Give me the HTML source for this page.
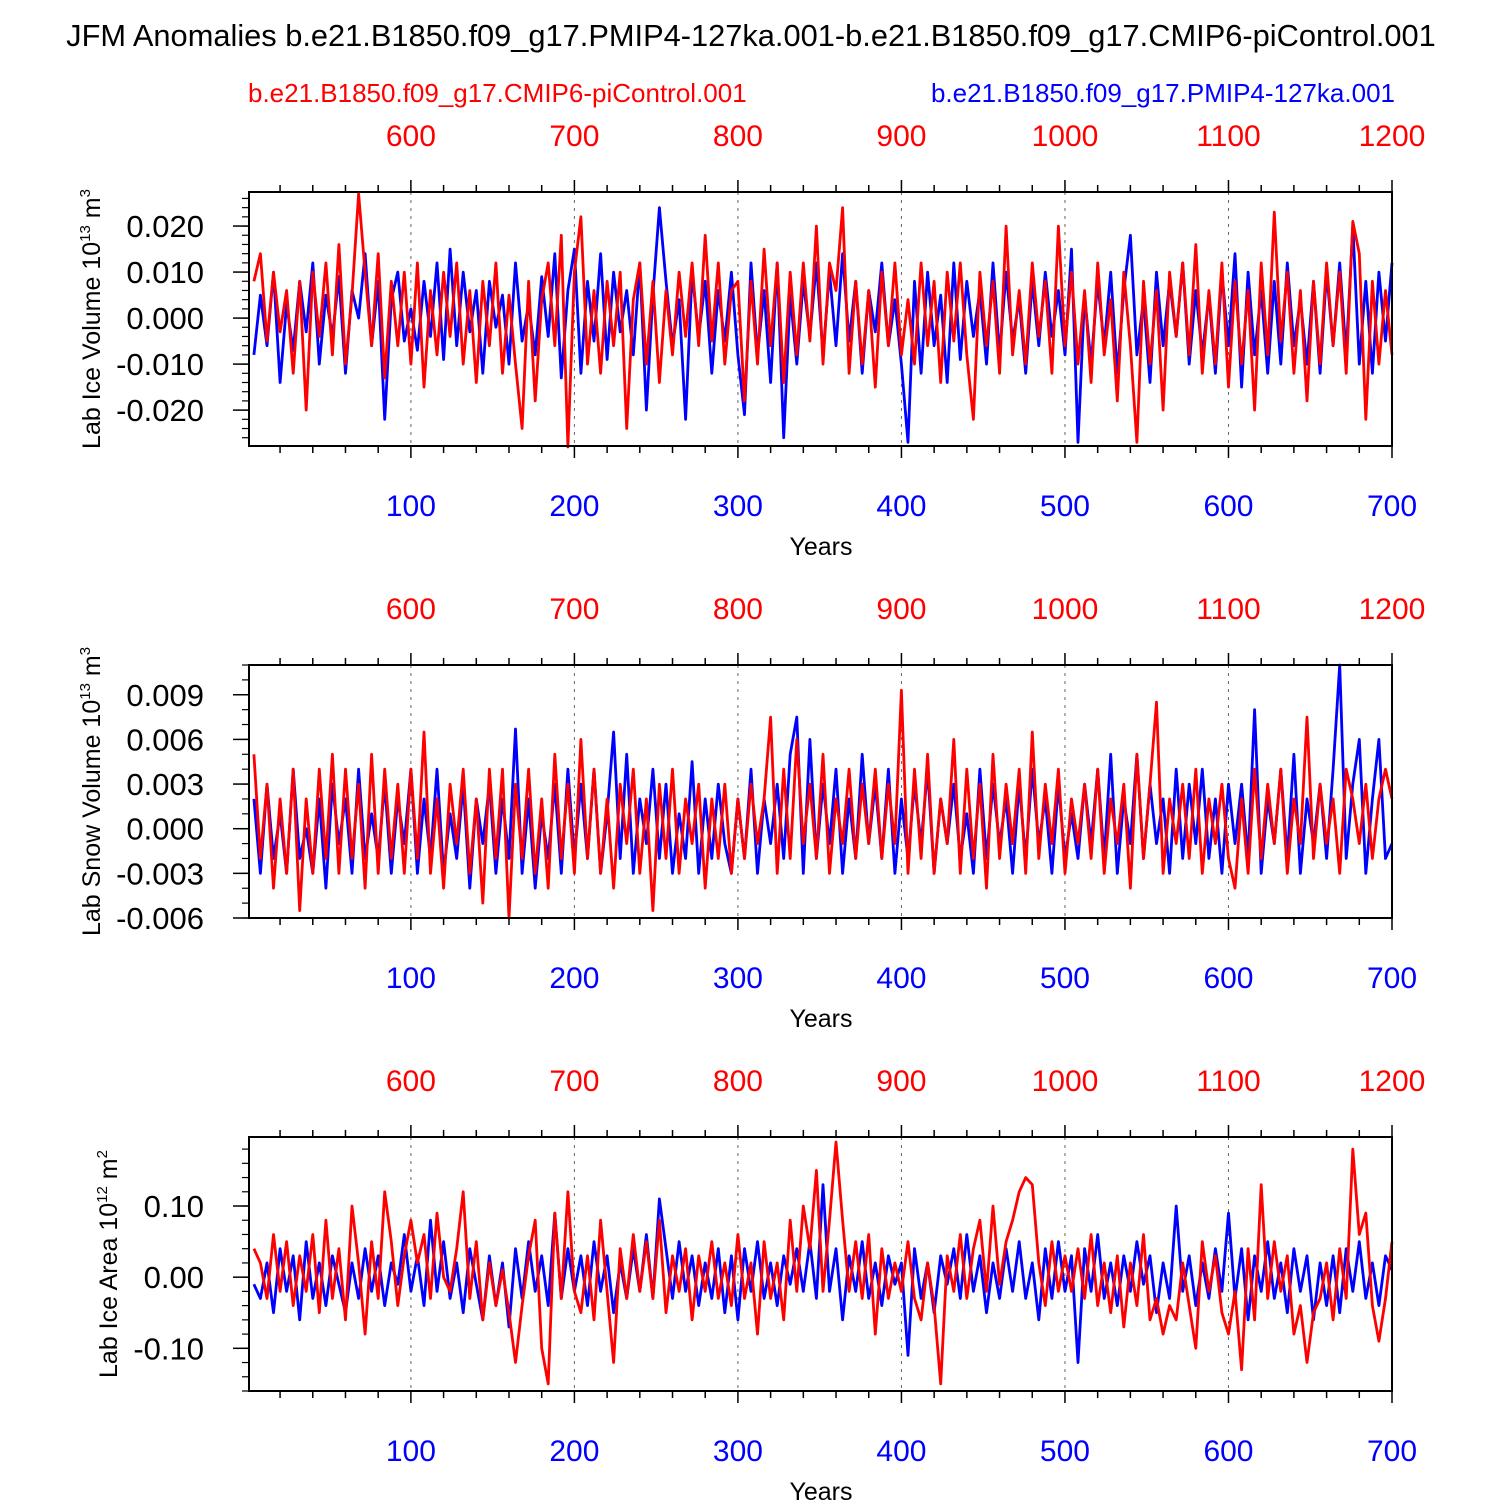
<!DOCTYPE html>
<html><head><meta charset="utf-8"><style>
html,body{margin:0;padding:0;background:#fff;}
svg{display:block;font-family:"Liberation Sans",Arial,sans-serif;}
</style></head><body>
<svg id="chart" width="1500" height="1500" viewBox="0 0 1500 1500" xmlns="http://www.w3.org/2000/svg">
<text x="751" y="46" text-anchor="middle" font-size="30.8">JFM Anomalies b.e21.B1850.f09_g17.PMIP4-127ka.001-b.e21.B1850.f09_g17.CMIP6-piControl.001</text>
<text x="248" y="102" font-size="26" fill="#ff0000">b.e21.B1850.f09_g17.CMIP6-piControl.001</text>
<text x="1395" y="102" text-anchor="end" font-size="26" fill="#0000ff">b.e21.B1850.f09_g17.PMIP4-127ka.001</text>
</svg>
<script>
// Panel 1: Lab Ice Volume (units 0.001 x 10^13 m^3), sampled every 4 years
const blueIce = [-8,5,-6,10,-14,3,-7,8,-3,12,-10,5,-4,9,-12,6,0,14,-6,8,-22,4,10,-5,2,
-7,8,-4,12,-9,15,-6,10,-3,6,-12,8,-2,5,-10,12,-5,3,-8,9,-4,14,-13,6,15,
-12,8,-5,14,-9,10,-3,6,-8,12,-20,5,24,8,-6,4,-22,10,-4,8,-12,6,-5,10,-8,
-21,12,-8,6,-14,12,-26,5,-10,8,-4,12,-8,10,-6,14,-5,8,-12,6,-3,12,-6,4,-10,
-27,8,-12,10,-6,5,-14,12,-9,8,-4,6,-10,12,-8,10,-5,4,-12,8,-6,10,-4,6,-8,
15,-27,5,-10,8,-6,10,-12,6,18,-8,4,-14,10,-6,8,-4,12,-10,6,-8,5,-12,10,-6,
14,-15,10,-8,6,-12,8,-10,12,-6,4,-10,8,-12,10,-6,12,-8,20,-10,8,-12,10,-5,12];
const redIce = [8,14,-5,10,-3,6,-12,8,-20,10,-4,12,-8,16,-10,5,27,10,-6,14,-13,8,-6,10,-10,
12,-15,6,-8,10,-4,12,-10,6,-14,8,-6,12,-12,5,-10,-24,8,-18,4,12,-6,18,-28,10,
22,-10,6,-12,8,-6,10,-24,4,12,-10,8,-14,6,-8,10,-4,12,-6,18,-5,12,-10,6,8,
-18,8,-10,15,-6,12,-14,10,-8,12,-5,20,-10,12,6,24,-12,8,-10,6,-15,10,-6,12,-8,
4,-10,12,-6,8,-14,10,-5,12,-8,-22,10,-6,8,-12,20,-8,6,-10,12,-4,8,-12,20,-6,
10,-10,6,-14,12,-8,4,-18,10,-6,-27,8,-10,6,-20,10,-4,12,-8,16,-12,6,-10,12,-15,
8,-10,6,-20,12,-8,23,-5,10,-12,6,-18,8,-10,12,-6,10,-12,21,14,-22,8,-10,6,-8];
// Panel 2: Lab Snow Volume (units 0.001 x 10^13 m^3)
const blueSnow = [2,-3,3,-2,1,-3,4,-2,0,-3,2,-4,3,-1,2,-3,4,-2,1,-2,3,-3,2,-1,4,
-3,2,-2,4,-3,1,-2,3,-4,2,-1,3,-3,2,-2,6.7,-3,2,-4,1,-2,3,-3,4,-2,
3,-2,4,-3,1,6.5,-2,5,-3,2,-1,4,-2,3,-3,1,-2,4.5,-3,2,-2,3,-1,-3,2,
-2,4,-3,2,-1,3,-2,5,7.5,-3,6,-2,3,-1,4,-3,2,-2,5,-1,3,-2,4,-3,2,
-2,3,-1,4,-3,2,-1,3,-2,1,-3,4,-2,3,-1,2,-3,3,-2,4,-1,2,-3,3,-2,
1,-2,3,-1,4,-2,5,-3,2,-1,5,-2,3,-1,2,-3,4,-2,3,-1,4,-2,2,-3,3,
-1,3,-2,8,-3,2,-1,4,-2,5,-3,2,-1,3,-2,4,11,-2,3,6,-3,2,6,-2,-1];
const redSnow = [5,-2,3,-4,2,-3,4,-5.5,2,-3,4,-2,5,-3,4,-2,3,-4,5,-3,4,-2,3,-3,4,
-2,6.5,-3,2,-4,3,-1,4,-3,2,-5,4,-2,4,-6,3,-2,4,-3,2,-4,5,-2,3,-3,
6,-2,4,-3,2,-4,3,-1,4,-3,2,-5.5,3,-2,4,-3,2,-1,3,-4,2,-2,3,-3,2,
-2,3,-1,2,7.5,-3,4,-2,6,-1,3,-2,5,-3,2,-1,4,-2,3,-1,4,-2,3,-1,9.3,
-3,4,-2,5,-3,2,-1,6,-3,4,-2,3,-4,5,-2,3,-1,4,-3,6.5,-2,3,-1,4,-3,
2,-1,3,-2,4,-3,2,-1,3,-4,5,-2,3,8.5,-3,2,-1,3,-2,4,-3,2,-1,3,-2,
-4,2,-3,4,-2,3,-1,4,-3,2,-1,7.5,-2,3,-1,2,-3,4,2,-1,3,-2,2,4,2];
// Panel 3: Lab Ice Area (units 0.01 x 10^12 m^2)
const blueArea = [-1,-3,2,-5,4,-2,3,-6,5,-3,2,-4,3,-1,-5,2,-3,4,-2,3,-4,2,-1,6,-2,
3,-4,8,-2,5,-3,2,-5,4,-1,-6,3,-4,2,-7,4,-3,5,-2,3,-4,9,-3,4,-2,
3,-4,5,-2,3,-5,2,-3,4,-2,6,-3,11,4,-3,5,-2,3,-4,2,-3,4,-5,3,-6,
4,-2,5,-3,2,-4,3,-1,4,-2,5,-3,13,-2,4,-6,3,-2,5,-3,2,-4,3,-1,2,
-11,4,-3,2,-5,3,-1,4,-3,6,-2,3,-5,2,-3,4,-2,5,-3,2,-6,4,-3,5,-2,
3,-12,4,-2,6,-3,2,-4,3,-2,5,-1,3,-5,2,-3,10,-2,3,-4,2,-3,4,-2,9,
-3,4,-6,3,-2,5,-3,2,-5,4,-2,3,-6,2,-4,3,-5,4,-2,5,-3,2,-4,3,1];
const redArea = [4,2,-3,6,-2,5,-4,3,-2,6,-5,8,-3,4,-6,10,2,-8,5,-3,12,5,-4,3,8,
2,6,-3,9,0,-2,4,12,-3,5,-6,2,-4,1,-5,-12,-4,3,8,-10,-15,9,-3,12,-2,
-5,3,-6,8,-2,-12,4,-3,6,-2,5,-3,8,-5,3,-2,4,-6,3,-2,5,-3,2,-4,6,
-3,2,-8,5,-3,2,-6,8,-2,10,4,15,-2,8,19,8,-2,5,-3,6,-8,4,-3,2,-2,
5,-3,-6,2,-4,-15,3,-2,6,-3,4,8,-2,10,-1,5,8,12,14,13,2,-4,5,-2,3,
-2,4,-3,6,-4,2,-5,3,-7,2,-4,6,-6,-3,-8,-4,-6,2,-4,-10,5,-2,3,-5,-8,
-2,-13,4,-6,13,-3,5,-2,3,-8,-4,-12,-5,-3,2,-6,4,-3,18,6,9,-4,-9,-3,5];
const bottomTicks = [100,200,300,400,500,600,700];
const topTicks = [600,700,800,900,1000,1100,1200];
const iceTicks = ["0.020","0.010","0.000","-0.010","-0.020"];
const snowTicks = ["0.009","0.006","0.003","0.000","-0.003","-0.006"];
const areaTicks = ["0.10","0.00","-0.10"];

const svg = document.getElementById('chart');
const NS = 'http://www.w3.org/2000/svg';
const X0 = 249, X1 = 1392;
function xs(yr){ return X0 + (yr - 1) * (X1 - X0) / 699; }
function mk(tag, attrs, parent){ const e = document.createElementNS(NS, tag); for (const k in attrs) e.setAttribute(k, attrs[k]); (parent||svg).appendChild(e); return e; }

function panel(p){
  const g = mk('g', {});
  
  
  const ys = v => p.top + (p.ymax - v) * (p.bot - p.top) / (p.ymax - p.ymin);
  bottomTicks.forEach(t => { if (t < 700) mk('line', {x1:xs(t), x2:xs(t), y1:p.top, y2:p.bot, stroke:'#666', 'stroke-width':1, 'stroke-dasharray':'3,5'}, g); });
  [[p.blue,'#0000ff'],[p.red,'#ff0000']].forEach(([arr,col], si) => {
    const pts = arr.map((v,i) => xs((i+1)*4).toFixed(1) + ',' + ys(v*p.unit).toFixed(1)).join(' ');
    const pl = mk('polyline', {points:pts, fill:'none', stroke:col, 'stroke-width':2.8, 'stroke-linejoin':'round'}, g);
    
    
  });
  mk('rect', {x:X0, y:p.top, width:X1-X0, height:p.bot-p.top, fill:'none', stroke:'#000', 'stroke-width':2}, g);
  for (let yr = 20; yr <= 700; yr += 20) {
    const major = yr % 100 === 0; const L = major ? 12 : 7; const x = xs(yr);
    mk('line', {x1:x, x2:x, y1:p.bot, y2:p.bot+L, stroke:'#000', 'stroke-width':1.5}, g);
    mk('line', {x1:x, x2:x, y1:p.top, y2:p.top-L, stroke:'#000', 'stroke-width':1.5}, g);
  }
  bottomTicks.forEach(t => {
    const tx = mk('text', {x:xs(t), y:p.bot+70, 'text-anchor':'middle', 'font-size':30, fill:'#0000ff'}, g);
    tx.textContent = t;
    
    
  });
  topTicks.forEach((t,i) => {
    const tx = mk('text', {x:xs(bottomTicks[i]), y:p.top-46, 'text-anchor':'middle', 'font-size':30, fill:'#ff0000'}, g);
    tx.textContent = t;
    
    
  });
  const yl = mk('text', {x:821, y:p.bot+109, 'text-anchor':'middle', 'font-size':25}, g);
  yl.textContent = 'Years';
  
  
  for (let v = Math.ceil(p.ymin/p.minor - 1e-6)*p.minor; v <= p.ymax + 1e-9; v += p.minor) {
    const y = ys(v);
    mk('line', {x1:X0-7, x2:X0, y1:y, y2:y, stroke:'#000', 'stroke-width':1.2}, g);
  }
  p.ticks.forEach(s => {
    const y = ys(parseFloat(s));
    mk('line', {x1:X0-16, x2:X0, y1:y, y2:y, stroke:'#000', 'stroke-width':1.5}, g);
    const tx = mk('text', {x:204, y:y+11, 'text-anchor':'end', 'font-size':31}, g);
    tx.textContent = s;
    
    
  });
  const cy = (p.top + p.bot)/2;
  const t = mk('text', {x:p.tx, y:cy, 'text-anchor':'middle', 'font-size':25, transform:`rotate(-90 ${p.tx} ${cy})`}, g);
  t.innerHTML = p.title + ' 10<tspan dy="-10" font-size="15">' + p.exp1 + '</tspan><tspan dy="10"> m</tspan><tspan dy="-10" font-size="15">' + p.exp2 + '</tspan>';
  
  
}
panel({name:'ice-volume-panel', top:192, bot:446, ymax:0.0274, ymin:-0.0278, unit:0.001, minor:0.002, ticks:iceTicks, blue:blueIce, red:redIce, title:'Lab Ice Volume', exp1:'13', exp2:'3', tx:100});
panel({name:'snow-volume-panel', top:665, bot:918, ymax:0.0110, ymin:-0.0060, unit:0.001, minor:0.001, ticks:snowTicks, blue:blueSnow, red:redSnow, title:'Lab Snow Volume', exp1:'13', exp2:'3', tx:100});
panel({name:'ice-area-panel', top:1137, bot:1391, ymax:0.197, ymin:-0.160, unit:0.01, minor:0.02, ticks:areaTicks, blue:blueArea, red:redArea, title:'Lab Ice Area', exp1:'12', exp2:'2', tx:117});
</script>
</body></html>
